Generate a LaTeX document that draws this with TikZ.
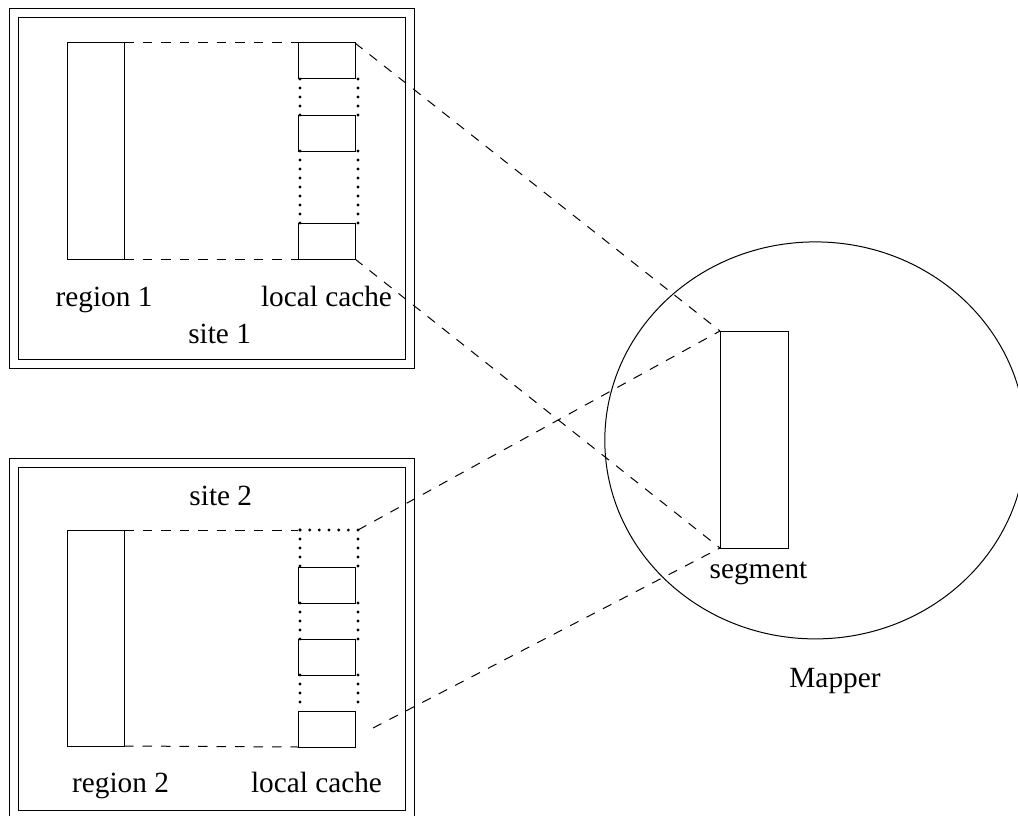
\documentclass[tikz,border=0pt]{standalone}
\usetikzlibrary{shapes.geometric}
\usepackage{fontspec}
\setmainfont{Liberation Serif}
\tikzset{
 x=1pt,y=-1pt,
 every path/.style={line width=1pt},
 sitebox/.style={draw,anchor=north west,inner sep=0pt,outer sep=0pt,line width=1pt},
 cachebox/.style={sitebox,minimum width=57pt,minimum height=36pt},
 regionbox/.style={sitebox,minimum width=57pt,minimum height=216pt},
 lbl/.style={font=\fontsize{29.3}{30}\selectfont,inner sep=0pt,anchor=base},
 dash link/.style={dash pattern=on 9.5pt off 9pt,line width=1pt},
 dots/.style={line cap=round,line width=3.2pt,dash pattern=on 0pt off 9pt},
}
\begin{document}
\begin{tikzpicture}
\useasboundingbox (0,0) rectangle (1018,816);
\node[sitebox,minimum width=405pt,minimum height=359pt] (o1) at (9,9) {};
\node[sitebox,minimum width=387pt,minimum height=341pt] (i1) at (18,18) {};
\node[sitebox,minimum width=405pt,minimum height=360pt] (o2) at (9,458) {};
\node[sitebox,minimum width=387pt,minimum height=343pt] (i2) at (18,467) {};
\node[regionbox] (r1) at (67,43) {};
\node[regionbox] (r2) at (67,530) {};
\node[cachebox] (a1) at (298,43) {};
\node[cachebox] (a2) at (298,115) {};
\node[cachebox] (a3) at (298,223) {};
\node[cachebox] (b1) at (298,567) {};
\node[cachebox] (b2) at (298,639) {};
\node[cachebox] (b3) at (298,711) {};
\coordinate (btl) at (298,530);
\coordinate (btr) at (358,530);
\coordinate (free) at (373,728);
\draw[dash link] (r1.north east) -- (a1.north west);
\draw[dash link] (r1.south east) -- (a3.south west);
\draw[dash link] (r2.north east) -- (btl);
\draw[dash link] (r2.south east) -- (b3.south west);
\foreach \u/\v in {a1/a2,a2/a3,b1/b2,b2/b3}{
 \draw[dots] ([xshift=2pt]\u.south west) -- ([xshift=2pt]\v.north west);
 \draw[dots] ([xshift=3pt]\u.south east) -- ([xshift=3pt]\v.north east);
}
\draw[dots,dash pattern=on 0pt off 9.67pt] ([xshift=2pt]btl) -- (btr);
\draw[dots] ([xshift=2pt]btl) -- ([xshift=2pt]b1.north west);
\draw[dots] (btr) -- ([xshift=3pt]b1.north east);
\node[draw,ellipse,minimum width=421pt,minimum height=397pt,inner sep=0pt,line width=1pt] (m) at (815.3,440.4) {};
\node[sitebox,minimum width=68pt,minimum height=217pt] (s) at (720,331) {};
\draw[dash link] (a1.north east) -- (s.north west);
\draw[dash link] (a3.south east) -- (s.south west);
\draw[dash link] (btr) -- (s.north west);
\draw[dash link] (free) -- (s.south west);
\node[lbl] (t1) at (104,306) {region 1};
\node[lbl] (t2) at (326.5,306) {local cache};
\node[lbl] (t3) at (219.6,343.5) {site 1};
\node[lbl] (t4) at (220.8,505) {site 2};
\node[lbl] (t5) at (120.5,792) {region 2};
\node[lbl] (t6) at (316.5,792) {local cache};
\node[lbl] (t7) at (758.5,578) {segment};
\node[lbl] (t8) at (835,687) {Mapper};
\end{tikzpicture}
\end{document}
